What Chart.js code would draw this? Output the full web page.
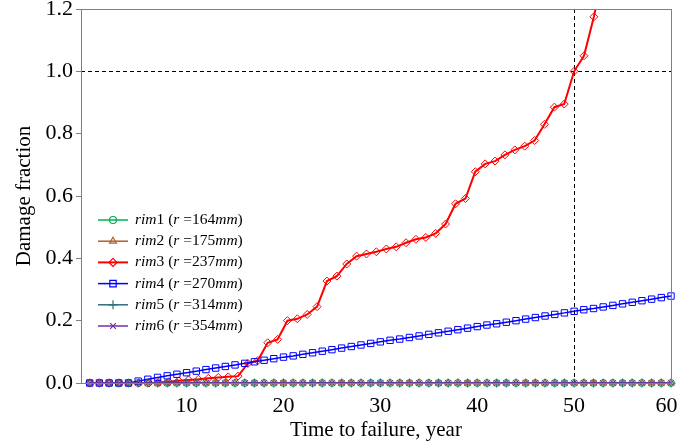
<!DOCTYPE html>
<html>
<head>
<meta charset="utf-8">
<script src="https://cdn.jsdelivr.net/npm/chart.js@4.4.0/dist/chart.umd.min.js"></script>
<style>
html, body { margin: 0; padding: 0; background: #fff; }
</style>
</head>
<body>
<canvas id="chart" width="678" height="446"></canvas>
<script>
// time axis (years) and damage fraction of each rim
var years = [0,1,2,3,4,5,6,7,8,9,10,11,12,13,14,15,16,17,18,19,20,
             21,22,23,24,25,26,27,28,29,30,31,32,33,34,35,36,37,38,39,40,
             41,42,43,44,45,46,47,48,49,50,51,52,53,54,55,56,57,58,59,60];
// rim3 is sampled on its own time steps (reaches 1.0 at year 50)
var rim3Years = [0,1.02,2.04,3.06,4.08,5.10,6.12,7.14,8.16,9.18,10.20,11.22,12.24,
                 13.27,14.29,15.31,16.33,17.35,18.37,19.39,20.41,21.43,22.45,23.47,
                 24.49,25.51,26.53,27.55,28.57,29.59,30.61,31.63,32.65,33.67,34.69,
                 35.71,36.73,37.76,38.78,39.80,40.82,41.84,42.86,43.88,44.90,45.92,
                 46.94,47.96,48.98,50.00,51.02,52.04,53.06];
var seriesNames = ["rim1", "rim2", "rim3", "rim4", "rim5", "rim6"];
var radii = [164, 175, 237, 270, 314, 354];

var rim1 = [0,0,0,0,0,0,0,0,0,0,0,0,0,0,0,0,0,0,0,0,0,0,0,0,0,0,0,0,0,0,0,
            0,0,0,0,0,0,0,0,0,0,0,0,0,0,0,0,0,0,0,0,0,0,0,0,0,0,0,0,0,0];
var rim2 = [0,0,0,0,0,0,0,0,0,0,0,0,0,0,0,0,0,0,0,0,0,0,0,0,0,0,0,0,0,0,0,
            0,0,0,0,0,0,0,0,0,0,0,0,0,0,0,0,0,0,0,0,0,0,0,0,0,0,0,0,0,0];
var rim3 = [0,0,0,0,0,0,0,0.002,0.004,0.007,0.010,0.012,0.015,0.018,0.020,
            0.022,0.063,0.072,0.129,0.140,0.200,0.206,0.220,0.245,0.327,0.343,
            0.382,0.407,0.414,0.421,0.430,0.437,0.450,0.461,0.467,0.480,0.510,
            0.575,0.592,0.678,0.703,0.712,0.732,0.748,0.760,0.778,0.830,0.885,
            0.895,1.000,1.050,1.175,1.320];
var rim4 = [0,0,0,0,0,0.006,0.012,0.018,0.023,0.028,0.033,0.038,0.043,0.048,
            0.053,0.058,0.063,0.068,0.073,0.078,0.083,0.087,0.092,0.097,0.102,
            0.107,0.112,0.117,0.122,0.127,0.132,0.137,0.141,0.146,0.151,0.156,
            0.161,0.166,0.171,0.176,0.181,0.186,0.190,0.195,0.200,0.205,0.210,
            0.215,0.220,0.225,0.230,0.235,0.239,0.244,0.249,0.254,0.259,0.264,
            0.269,0.274,0.279];
var rim5 = [0,0,0,0,0,0,0,0,0,0,0,0,0,0,0,0,0,0,0,0,0,0,0,0,0,0,0,0,0,0,0,
            0,0,0,0,0,0,0,0,0,0,0,0,0,0,0,0,0,0,0,0,0,0,0,0,0,0,0,0,0,0];
var rim6 = [0,0,0,0,0,0,0,0,0,0,0,0,0,0,0,0,0,0,0,0,0,0,0,0,0,0,0,0,0,0,0,
            0,0,0,0,0,0,0,0,0,0,0,0,0,0,0,0,0,0,0,0,0,0,0,0,0,0,0,0,0,0];

var xTicks = [10, 20, 30, 40, 50, 60];
var yTicks = [0, 0.2, 0.4, 0.6, 0.8, 1.0, 1.2];
var failureLimit = 1.0;
var failureYear = 50;

var allSeries = [rim1, rim2, rim3, rim4, rim5, rim6];
var allYears = [years, years, rim3Years, years, years, years];
var colors = ["#00b050", "#b0622a", "#ff0000", "#0000ff", "#2e6e7e", "#7030a0"];
var markers = ["circle", "triangle", "rectRot", "rect", "cross", "crossRot"];
var markerSize = [3.5, 4, 4, 4.5, 4.5, 4];
var lineWidths = [1.5, 1.5, 2, 1.5, 1.5, 1.5];

var serif = "'Liberation Serif', 'Times New Roman', serif";

var datasets = allSeries.map(function (vals, i) {
    return {
        label: seriesNames[i],
        data: allYears[i].map(function (t, k) { return {x: t, y: vals[k]}; }),
        borderColor: colors[i],
        backgroundColor: "rgba(0,0,0,0)",
        borderWidth: lineWidths[i],
        pointStyle: markers[i],
        pointRadius: markerSize[i],
        pointBorderWidth: 1,
        pointBackgroundColor: "rgba(0,0,0,0)",
        pointBorderColor: colors[i],
        showLine: true,
        tension: 0,
        order: 6 - i,
        clip: {left: 8, top: 0, right: 8, bottom: 8}
    };
});

// dashed lines at damage = 1 and time of failure
var refLines = {
    id: "refLines",
    beforeDatasetsDraw: function (chart) {
        var ctx = chart.ctx, a = chart.chartArea;
        var px = chart.scales.x.getPixelForValue(failureYear);
        var py = chart.scales.y.getPixelForValue(failureLimit);
        ctx.save();
        ctx.strokeStyle = "#000";
        ctx.lineWidth = 1;
        ctx.setLineDash([4, 3]);
        ctx.beginPath();
        ctx.moveTo(a.left, Math.round(py) + 0.5);
        ctx.lineTo(a.right, Math.round(py) + 0.5);
        ctx.moveTo(Math.round(px) + 0.5, a.top);
        ctx.lineTo(Math.round(px) + 0.5, a.bottom);
        ctx.stroke();
        ctx.restore();
    },
    afterDraw: function (chart) {
        var ctx = chart.ctx, a = chart.chartArea;
        ctx.save();
        // box round the plot
        ctx.strokeStyle = "#808080";
        ctx.lineWidth = 1;
        ctx.strokeRect(Math.round(a.left) + 0.5, Math.round(a.top) + 0.5,
                       Math.round(a.right - a.left), Math.round(a.bottom - a.top));

        // legend with italic symbols
        var top = 220, step = 21.2;
        ctx.textBaseline = "middle";
        seriesNames.forEach(function (name, i) {
            var ds = chart.data.datasets[i];
            var y = top + i * step;
            ctx.strokeStyle = ds.borderColor;
            ctx.lineWidth = ds.borderWidth;
            ctx.beginPath();
            ctx.moveTo(98, y);
            ctx.lineTo(128, y);
            ctx.stroke();
            ctx.fillStyle = "rgba(0,0,0,0)";
            ctx.lineWidth = 1.2;
            Chart.helpers.drawPoint(ctx, {pointStyle: ds.pointStyle, radius: ds.pointRadius,
                                          borderWidth: 1.2, rotation: 0}, 113, y);
            var m = name.match(/^([a-z]+)(\d+)$/);
            var parts = [[m[1], true], [m[2], false], [" (", false], ["r", true],
                         [" =", false], [String(radii[i]), false], ["mm", true], [")", false]];
            var x = 135;
            ctx.fillStyle = "#000";
            parts.forEach(function (p) {
                ctx.font = (p[1] ? "italic " : "") + "15.5px " + serif;
                ctx.fillText(p[0], x, y);
                x += ctx.measureText(p[0]).width;
            });
        });
        ctx.restore();
    }
};

new Chart(document.getElementById("chart"), {
    type: "scatter",
    data: {datasets: datasets},
    plugins: [refLines],
    options: {
        responsive: false,
        animation: false,
        layout: {padding: {top: 9, right: 7, left: 0, bottom: 0}},
        plugins: {legend: {display: false}, tooltip: {enabled: false}},
        scales: {
            x: {
                type: "linear",
                min: -0.9,
                max: 60,
                afterBuildTicks: function (scale) {
                    scale.ticks = xTicks.map(function (v) { return {value: v}; });
                },
                afterFit: function (scale) {
                    scale.height = 63;
                    scale.paddingLeft = 0;
                    scale.paddingRight = 0;
                },
                grid: {display: false},
                border: {display: true, color: "#808080"},
                ticks: {font: {family: serif, size: 22}, color: "#000", padding: 2, maxRotation: 0,
                        // last label pulled in so it stays inside the window
                        callback: function (v) { return v === 60 ? v + "\u2009\u2009" : String(v); }},
                title: {display: true, text: "Time to failure, year", color: "#000",
                        font: {family: serif, size: 21}, padding: {top: 0, bottom: 3}}
            },
            y: {
                min: 0,
                max: 1.2,
                afterBuildTicks: function (scale) {
                    scale.ticks = yTicks.map(function (v) { return {value: v}; });
                },
                afterFit: function (scale) {
                    scale.width = 81;
                    scale.paddingTop = 0;
                    scale.paddingBottom = 0;
                },
                grid: {display: true, drawOnChartArea: false, drawTicks: true, tickLength: 5, color: "#808080"},
                border: {display: true, color: "#808080"},
                ticks: {font: {family: serif, size: 22}, color: "#000", padding: 3,
                        callback: function (v) { return v.toFixed(1); }},
                title: {display: true, text: "Damage fraction", color: "#000",
                        font: {family: serif, size: 21}, padding: {top: 12, bottom: 0}}
            }
        }
    }
});
</script>
</body>
</html>
